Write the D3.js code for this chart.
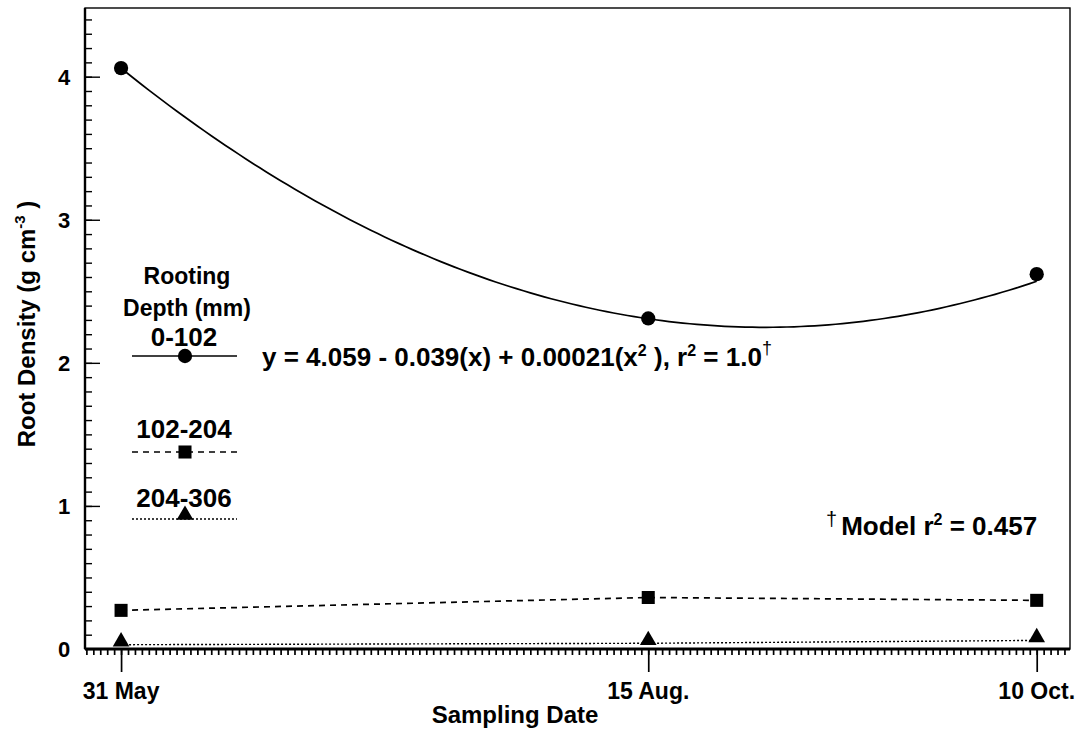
<!DOCTYPE html>
<html lang="en">
  <head>
    <meta charset="utf-8" />
    <title>Root Density</title>
    <script src="https://cdn.jsdelivr.net/npm/d3@7"></script>
    <style>
      body { margin: 0; background: #fff; }
      text { font-family: "Liberation Sans", Arial, sans-serif; font-weight: bold; fill: #000; }
    </style>
  </head>
  <body>
    <script>
      const WIDTH = 1083;
      const HEIGHT = 742;

      // Sampling dates, as days after 31 May
      const dateLabels = ["31 May", "15 Aug.", "10 Oct."];
      const dateDays = [0, 76, 132];

      // Root density by rooting depth (g cm-3)
      const depthLabels = ["0-102", "102-204", "204-306"];
      const depth0to102 = [4.06, 2.31, 2.62];
      const depth102to204 = [0.27, 0.36, 0.34];
      const depth204to306 = [0.03, 0.04, 0.06];

      // Quadratic fit printed on the chart
      const fitCoef = [4.059, -0.039, 0.00021];

      const yTicks = [0, 1, 2, 3, 4];

      const margin = { left: 85, right: 13, top: 8, bottom: 93 };

      const svg = d3.select("body").append("svg")
        .attr("width", WIDTH).attr("height", HEIGHT);

      const x = d3.scaleLinear().domain([-5.2, 136.8])
        .range([margin.left, WIDTH - margin.right]);
      const y = d3.scaleLinear().domain([0, 4.48])
        .range([HEIGHT - margin.bottom, margin.top]);

      // frame
      svg.append("rect")
        .attr("x", x.range()[0]).attr("y", y.range()[1])
        .attr("width", x.range()[1] - x.range()[0])
        .attr("height", y.range()[0] - y.range()[1])
        .attr("fill", "none").attr("stroke", "#000").attr("stroke-width", 1.4);

      // y axis: minor ticks inward every 0.1, majors longer
      const yAxisG = svg.append("g").attr("transform", `translate(${margin.left},0)`);
      yAxisG.call(d3.axisRight(y).tickValues(d3.range(1, 45).map(d => d / 10)).tickSize(7).tickFormat(""))
        .call(g => g.select(".domain").remove());
      yAxisG.append("g").call(d3.axisRight(y).tickValues(yTicks).tickSize(15).tickFormat(""))
        .call(g => g.select(".domain").remove());
      yAxisG.selectAll("line").attr("stroke-width", 1.4);
      yTicks.forEach(v => {
        svg.append("text").attr("x", 64).attr("y", y(v) + 8)
          .attr("text-anchor", "middle").attr("font-size", 22).text(v);
      });
      svg.append("line").attr("x1", margin.left).attr("x2", margin.left)
        .attr("y1", y.range()[0]).attr("y2", y.range()[1])
        .attr("stroke", "#000").attr("stroke-width", 2.4);

      // x axis: daily minor ticks downward
      const xAxisG = svg.append("g").attr("transform", `translate(0,${y(0)})`);
      xAxisG.call(d3.axisBottom(x).tickValues(d3.range(-5, 137)).tickSize(6).tickFormat(""))
        .call(g => g.select(".domain").remove());
      xAxisG.append("g").call(d3.axisBottom(x).tickValues(dateDays).tickSize(23).tickFormat(""))
        .call(g => g.select(".domain").remove());
      xAxisG.selectAll("line").attr("stroke-width", 1.7);
      svg.append("line").attr("x1", x.range()[0]).attr("x2", x.range()[1])
        .attr("y1", y(0)).attr("y2", y(0))
        .attr("stroke", "#000").attr("stroke-width", 3);
      dateDays.forEach((d, i) => {
        svg.append("text").attr("x", x(d)).attr("y", 699)
          .attr("text-anchor", "middle").attr("font-size", 23).text(dateLabels[i]);
      });

      // axis titles
      svg.append("text").attr("x", 515).attr("y", 723)
        .attr("text-anchor", "middle").attr("font-size", 24).text("Sampling Date");
      const yTitle = svg.append("text")
        .attr("transform", "translate(35,324) rotate(-90)")
        .attr("text-anchor", "middle").attr("font-size", 24);
      yTitle.append("tspan").text("Root Density (g cm");
      yTitle.append("tspan").attr("dy", -10).attr("font-size", 15).text("-3");
      yTitle.append("tspan").attr("dy", 10).text(" )");

      // fitted curve for 0-102 mm
      const fit = t => fitCoef[0] + fitCoef[1] * t + fitCoef[2] * t * t;
      const curveDays = d3.range(dateDays[0], dateDays[2] + 0.5, 1);
      svg.append("path")
        .datum(curveDays)
        .attr("fill", "none").attr("stroke", "#000").attr("stroke-width", 1.7)
        .attr("d", d3.line().x(d => x(d)).y(d => y(fit(d))));

      // dashed and dotted series lines
      const lineGen = d3.line().x((d, i) => x(dateDays[i])).y(d => y(d));
      svg.append("path").datum(depth102to204)
        .attr("fill", "none").attr("stroke", "#000").attr("stroke-width", 1.7)
        .attr("stroke-dasharray", "6,5").attr("d", lineGen);
      svg.append("path").datum(depth204to306)
        .attr("fill", "none").attr("stroke", "#000").attr("stroke-width", 1.4)
        .attr("stroke-dasharray", "2,2").attr("d", lineGen);

      // markers
      const circle = d3.symbol().type(d3.symbolCircle).size(160);
      const square = d3.symbol().type(d3.symbolSquare).size(170);
      const triangle = d3.symbol().type(d3.symbolTriangle).size(120);
      const addMarkers = (vals, sym, dy) => {
        svg.selectAll(null).data(vals).enter().append("path")
          .attr("d", sym)
          .attr("transform", (d, i) => `translate(${x(dateDays[i])},${y(d) + (dy || 0)})`)
          .attr("fill", "#000");
      };
      addMarkers(depth0to102, circle);
      addMarkers(depth102to204, square);
      addMarkers(depth204to306, triangle, -3);

      // legend
      const legX = 185;
      svg.append("text").attr("x", legX + 2).attr("y", 284)
        .attr("text-anchor", "middle").attr("font-size", 23).text("Rooting");
      svg.append("text").attr("x", legX + 2).attr("y", 316)
        .attr("text-anchor", "middle").attr("font-size", 23).text("Depth (mm)");
      const legRows = [
        { ty: 346, ly: 356, sym: circle, dash: null, sw: 1.7 },
        { ty: 438, ly: 452, sym: square, dash: "6,5", sw: 1.7 },
        { ty: 507, ly: 519, sym: triangle, dash: "2,2", sw: 1.4 }
      ];
      legRows.forEach((r, i) => {
        svg.append("text").attr("x", legX - 1).attr("y", r.ty)
          .attr("text-anchor", "middle").attr("font-size", 26).text(depthLabels[i]);
        svg.append("line").attr("x1", 132).attr("x2", 237)
          .attr("y1", r.ly).attr("y2", r.ly)
          .attr("stroke", "#000").attr("stroke-width", r.sw)
          .attr("stroke-dasharray", r.dash);
        svg.append("path").attr("d", r.sym)
          .attr("transform", `translate(${legX},${r.ly - (i === 2 ? 4 : 0)})`)
          .attr("fill", "#000");
      });

      // equation
      const eq = svg.append("text").attr("x", 262).attr("y", 366).attr("font-size", 26);
      eq.append("tspan").text("y = 4.059 - 0.039(x) + 0.00021(x");
      eq.append("tspan").attr("dy", -10).attr("font-size", 16).text("2");
      eq.append("tspan").attr("dy", 10).text(" ), r");
      eq.append("tspan").attr("dy", -10).attr("font-size", 16).text("2");
      eq.append("tspan").attr("dy", 10).text(" = 1.0");
      eq.append("tspan").attr("dy", -12).attr("font-size", 18).attr("font-weight", "normal").text("†");

      const model = svg.append("text").attr("x", 826).attr("y", 535).attr("font-size", 26);
      model.append("tspan").attr("dy", -9).attr("font-size", 20).attr("font-weight", "normal").text("†");
      model.append("tspan").attr("dy", 9).attr("dx", 4).text("Model r");
      model.append("tspan").attr("dy", -10).attr("font-size", 16).text("2");
      model.append("tspan").attr("dy", 10).text(" = 0.457");
    </script>
  </body>
</html>
